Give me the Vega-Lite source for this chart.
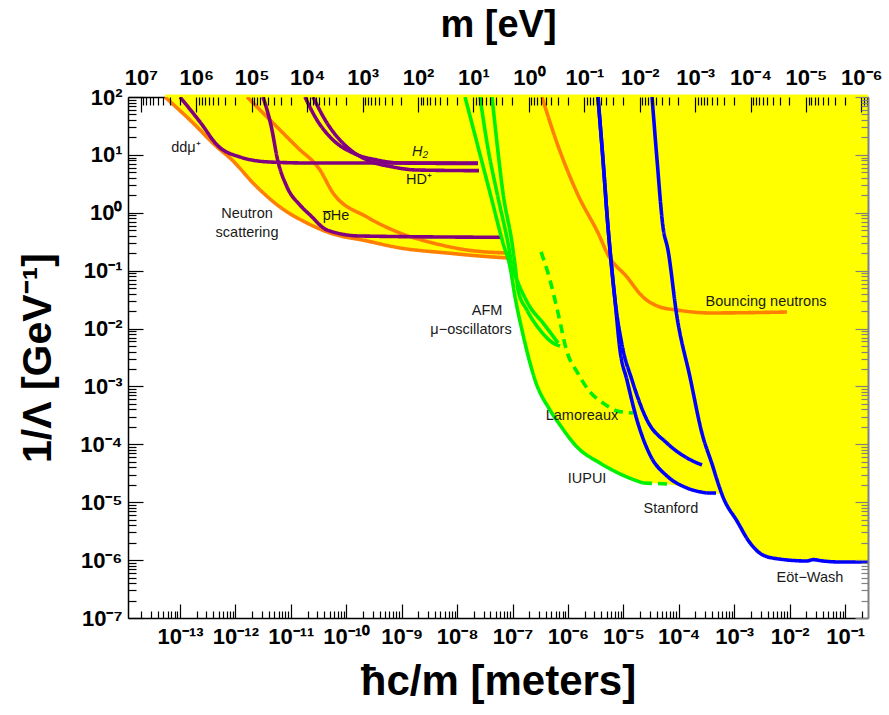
{
  "$schema": "https://vega.github.io/schema/vega-lite/v6.json",
  "width": 740,
  "height": 521,
  "autosize": "none",
  "padding": {"left": 128, "top": 97, "right": 21, "bottom": 97},
  "background": "white",
  "config": {
    "view": {"stroke": null},
    "axis": {
      "labelFont": "Liberation Sans", "titleFont": "Liberation Sans",
      "labelFontWeight": "bold", "titleFontWeight": "bold",
      "labelColor": "black", "titleColor": "black", "grid": false,
      "labelOverlap": false, "labelFlush": false, "labelBound": false,
      "tickColor": "black", "domainColor": "black", "tickWidth": 1.2
    }
  },
  "datasets": {
    "envelope": [
      {"x": 5.37e-14, "y": 100}, {"x": 1.65e-13, "y": 37.0}, {"x": 4.85e-13, "y": 13.2}, {"x": 7.98e-13, "y": 8.84},
      {"x": 2.45e-12, "y": 2.79}, {"x": 6.37e-12, "y": 1.26}, {"x": 1.96e-11, "y": 0.665}, {"x": 5.09e-11, "y": 0.448},
      {"x": 2.37e-10, "y": 0.326}, {"x": 9.33e-10, "y": 0.247}, {"x": 6.58e-9, "y": 0.202}, {"x": 2.59e-8, "y": 0.179},
      {"x": 7.94e-8, "y": 0.166}, {"x": 9.02e-8, "y": 0.116}, {"x": 1.11e-7, "y": 0.0351}, {"x": 1.48e-7, "y": 0.00944},
      {"x": 2.07e-7, "y": 0.00254}, {"x": 2.55e-7, "y": 0.00129}, {"x": 4.74e-7, "y": 3.92e-4}, {"x": 7.19e-7, "y": 2.16e-4},
      {"x": 1.46e-6, "y": 8.99e-5}, {"x": 3.78e-6, "y": 4.76e-5}, {"x": 1.16e-5, "y": 2.73e-5}, {"x": 2.26e-5, "y": 2.15e-5},
      {"x": 6.12e-5, "y": 2.07e-5}, {"x": 1.41e-4, "y": 1.76e-5}, {"x": 3.23e-4, "y": 1.44e-5}, {"x": 5.55e-4, "y": 1.39e-5},
      {"x": 6.28e-4, "y": 1.23e-5}, {"x": 1.12e-3, "y": 4.74e-6}, {"x": 1.93e-3, "y": 1.98e-6}, {"x": 3.31e-3, "y": 1.22e-6},
      {"x": 6.71e-3, "y": 1.04e-6}, {"x": 2.06e-2, "y": 9.66e-7}, {"x": 2.64e-2, "y": 1.02e-6}, {"x": 4.00e-2, "y": 9.66e-7},
      {"x": 8.11e-2, "y": 9.27e-7}, {"x": 0.2594, "y": 9.27e-7}
    ],
    "curves": [
      {"s": "neutron", "g": "orange", "d": "solid", "x": 5.37e-14, "y": 100},
      {"s": "neutron", "g": "orange", "d": "solid", "x": 1.65e-13, "y": 37.0},
      {"s": "neutron", "g": "orange", "d": "solid", "x": 4.85e-13, "y": 13.2},
      {"s": "neutron", "g": "orange", "d": "solid", "x": 7.98e-13, "y": 8.84},
      {"s": "neutron", "g": "orange", "d": "solid", "x": 2.45e-12, "y": 2.79},
      {"s": "neutron", "g": "orange", "d": "solid", "x": 6.37e-12, "y": 1.26},
      {"s": "neutron", "g": "orange", "d": "solid", "x": 1.96e-11, "y": 0.665},
      {"s": "neutron", "g": "orange", "d": "solid", "x": 5.09e-11, "y": 0.448},
      {"s": "neutron", "g": "orange", "d": "solid", "x": 2.37e-10, "y": 0.326},
      {"s": "neutron", "g": "orange", "d": "solid", "x": 9.33e-10, "y": 0.247},
      {"s": "neutron", "g": "orange", "d": "solid", "x": 6.58e-9, "y": 0.202},
      {"s": "neutron", "g": "orange", "d": "solid", "x": 2.59e-8, "y": 0.179},
      {"s": "neutron", "g": "orange", "d": "solid", "x": 7.94e-8, "y": 0.166},

      {"s": "orange2", "g": "orange", "d": "solid", "x": 1.62e-12, "y": 100},
      {"s": "orange2", "g": "orange", "d": "solid", "x": 4.21e-12, "y": 40.1},
      {"s": "orange2", "g": "orange", "d": "solid", "x": 1.29e-11, "y": 13.7},
      {"s": "orange2", "g": "orange", "d": "solid", "x": 3.36e-11, "y": 5.48},
      {"s": "orange2", "g": "orange", "d": "solid", "x": 5.77e-11, "y": 2.20},
      {"s": "orange2", "g": "orange", "d": "solid", "x": 2.37e-10, "y": 0.845},
      {"s": "orange2", "g": "orange", "d": "solid", "x": 9.33e-10, "y": 0.448},
      {"s": "orange2", "g": "orange", "d": "solid", "x": 3.67e-9, "y": 0.301},
      {"s": "orange2", "g": "orange", "d": "solid", "x": 1.51e-8, "y": 0.228},
      {"s": "orange2", "g": "orange", "d": "solid", "x": 7.94e-8, "y": 0.202},

      {"s": "bouncing", "g": "orange", "d": "solid", "x": 3.40e-7, "y": 100},
      {"s": "bouncing", "g": "orange", "d": "solid", "x": 6.35e-7, "y": 16.0},
      {"s": "bouncing", "g": "orange", "d": "solid", "x": 1.46e-6, "y": 2.20},
      {"s": "bouncing", "g": "orange", "d": "solid", "x": 3.78e-6, "y": 0.382},
      {"s": "bouncing", "g": "orange", "d": "solid", "x": 5.07e-6, "y": 0.202},
      {"s": "bouncing", "g": "orange", "d": "solid", "x": 1.16e-5, "y": 0.0778},
      {"s": "bouncing", "g": "orange", "d": "solid", "x": 2.26e-5, "y": 0.0351},
      {"s": "bouncing", "g": "orange", "d": "solid", "x": 4.58e-5, "y": 0.0236},
      {"s": "bouncing", "g": "orange", "d": "solid", "x": 9.29e-5, "y": 0.0209},
      {"s": "bouncing", "g": "orange", "d": "solid", "x": 3.66e-4, "y": 0.0186},
      {"s": "bouncing", "g": "orange", "d": "solid", "x": 8.97e-3, "y": 0.0193},

      {"s": "ddmu", "g": "purple", "d": "solid", "x": 1.0e-13, "y": 100},
      {"s": "ddmu", "g": "purple", "d": "solid", "x": 2.30e-13, "y": 37.0},
      {"s": "ddmu", "g": "purple", "d": "solid", "x": 4.85e-13, "y": 14.3},
      {"s": "ddmu", "g": "purple", "d": "solid", "x": 1.21e-12, "y": 9.20},
      {"s": "ddmu", "g": "purple", "d": "solid", "x": 4.21e-12, "y": 7.53},
      {"s": "ddmu", "g": "purple", "d": "solid", "x": 2.22e-11, "y": 7.24},
      {"s": "ddmu", "g": "purple", "d": "solid", "x": 2.38e-8, "y": 7.24},

      {"s": "H2", "g": "purple", "d": "solid", "x": 1.80e-11, "y": 100},
      {"s": "H2", "g": "purple", "d": "solid", "x": 2.96e-11, "y": 40.1},
      {"s": "H2", "g": "purple", "d": "solid", "x": 5.77e-11, "y": 18.1},
      {"s": "H2", "g": "purple", "d": "solid", "x": 1.32e-10, "y": 10.8},
      {"s": "H2", "g": "purple", "d": "solid", "x": 3.59e-10, "y": 8.17},
      {"s": "H2", "g": "purple", "d": "solid", "x": 9.33e-10, "y": 7.24},
      {"s": "H2", "g": "purple", "d": "solid", "x": 2.38e-8, "y": 7.10},

      {"s": "HD", "g": "purple", "d": "solid", "x": 2.51e-11, "y": 100},
      {"s": "HD", "g": "purple", "d": "solid", "x": 4.49e-11, "y": 35.6},
      {"s": "HD", "g": "purple", "d": "solid", "x": 1.03e-10, "y": 13.7},
      {"s": "HD", "g": "purple", "d": "solid", "x": 2.37e-10, "y": 8.17},
      {"s": "HD", "g": "purple", "d": "solid", "x": 6.97e-10, "y": 6.18},
      {"s": "HD", "g": "purple", "d": "solid", "x": 1.89e-9, "y": 5.48},
      {"s": "HD", "g": "purple", "d": "solid", "x": 2.48e-8, "y": 5.34},

      {"s": "pHe", "g": "purple", "d": "solid", "x": 3.15e-12, "y": 100},
      {"s": "pHe", "g": "purple", "d": "solid", "x": 4.57e-12, "y": 26.9},
      {"s": "pHe", "g": "purple", "d": "solid", "x": 5.62e-12, "y": 9.20},
      {"s": "pHe", "g": "purple", "d": "solid", "x": 8.53e-12, "y": 2.79},
      {"s": "pHe", "g": "purple", "d": "solid", "x": 1.46e-11, "y": 1.36},
      {"s": "pHe", "g": "purple", "d": "solid", "x": 2.22e-11, "y": 0.916},
      {"s": "pHe", "g": "purple", "d": "solid", "x": 4.49e-11, "y": 0.505},
      {"s": "pHe", "g": "purple", "d": "solid", "x": 1.77e-10, "y": 0.397},
      {"s": "pHe", "g": "purple", "d": "solid", "x": 5.94e-8, "y": 0.377},

      {"s": "IUPUI", "g": "green", "d": "solid", "x": 1.39e-8, "y": 100},
      {"s": "IUPUI", "g": "green", "d": "solid", "x": 2.29e-8, "y": 16.0},
      {"s": "IUPUI", "g": "green", "d": "solid", "x": 3.93e-8, "y": 2.20},
      {"s": "IUPUI", "g": "green", "d": "solid", "x": 6.73e-8, "y": 0.301},
      {"s": "IUPUI", "g": "green", "d": "solid", "x": 9.02e-8, "y": 0.116},
      {"s": "IUPUI", "g": "green", "d": "solid", "x": 1.11e-7, "y": 0.0351},
      {"s": "IUPUI", "g": "green", "d": "solid", "x": 1.48e-7, "y": 0.00944},
      {"s": "IUPUI", "g": "green", "d": "solid", "x": 2.07e-7, "y": 0.00254},
      {"s": "IUPUI", "g": "green", "d": "solid", "x": 2.55e-7, "y": 0.00129},
      {"s": "IUPUI", "g": "green", "d": "solid", "x": 4.74e-7, "y": 3.92e-4},
      {"s": "IUPUI", "g": "green", "d": "solid", "x": 7.19e-7, "y": 2.16e-4},
      {"s": "IUPUI", "g": "green", "d": "solid", "x": 1.46e-6, "y": 8.99e-5},
      {"s": "IUPUI", "g": "green", "d": "solid", "x": 3.78e-6, "y": 4.76e-5},
      {"s": "IUPUI", "g": "green", "d": "solid", "x": 1.16e-5, "y": 2.73e-5},
      {"s": "IUPUI", "g": "green", "d": "solid", "x": 2.26e-5, "y": 2.15e-5},

      {"s": "IUPUIext", "g": "green", "d": "dashed", "x": 2.26e-5, "y": 2.15e-5},
      {"s": "IUPUIext", "g": "green", "d": "dashed", "x": 6.12e-5, "y": 2.07e-5},

      {"s": "AFM1", "g": "green", "d": "solid", "x": 2.59e-8, "y": 100},
      {"s": "AFM1", "g": "green", "d": "solid", "x": 3.47e-8, "y": 16.0},
      {"s": "AFM1", "g": "green", "d": "solid", "x": 5.25e-8, "y": 2.20},
      {"s": "AFM1", "g": "green", "d": "solid", "x": 8.28e-8, "y": 0.301},
      {"s": "AFM1", "g": "green", "d": "solid", "x": 1.02e-7, "y": 0.103},
      {"s": "AFM1", "g": "green", "d": "solid", "x": 1.20e-7, "y": 0.0690},
      {"s": "AFM1", "g": "green", "d": "solid", "x": 2.07e-7, "y": 0.0236},
      {"s": "AFM1", "g": "green", "d": "solid", "x": 3.55e-7, "y": 0.0125},
      {"s": "AFM1", "g": "green", "d": "solid", "x": 6.62e-7, "y": 0.00564},

      {"s": "AFM2", "g": "green", "d": "solid", "x": 4.27e-8, "y": 100},
      {"s": "AFM2", "g": "green", "d": "solid", "x": 5.25e-8, "y": 16.0},
      {"s": "AFM2", "g": "green", "d": "solid", "x": 6.73e-8, "y": 2.20},
      {"s": "AFM2", "g": "green", "d": "solid", "x": 9.79e-8, "y": 0.301},
      {"s": "AFM2", "g": "green", "d": "solid", "x": 1.11e-7, "y": 0.125},
      {"s": "AFM2", "g": "green", "d": "solid", "x": 1.26e-7, "y": 0.0463},
      {"s": "AFM2", "g": "green", "d": "solid", "x": 1.82e-7, "y": 0.0209},
      {"s": "AFM2", "g": "green", "d": "solid", "x": 3.13e-7, "y": 0.00944},
      {"s": "AFM2", "g": "green", "d": "solid", "x": 5.37e-7, "y": 0.00564},
      {"s": "AFM2", "g": "green", "d": "solid", "x": 7.19e-7, "y": 0.0050},

      {"s": "Lamoreaux", "g": "green", "d": "dashed", "x": 3.27e-7, "y": 0.211},
      {"s": "Lamoreaux", "g": "green", "d": "dashed", "x": 4.74e-7, "y": 0.0690},
      {"s": "Lamoreaux", "g": "green", "d": "dashed", "x": 6.62e-7, "y": 0.0186},
      {"s": "Lamoreaux", "g": "green", "d": "dashed", "x": 9.62e-7, "y": 0.00394},
      {"s": "Lamoreaux", "g": "green", "d": "dashed", "x": 1.46e-6, "y": 0.00178},
      {"s": "Lamoreaux", "g": "green", "d": "dashed", "x": 2.50e-6, "y": 8.02e-4},
      {"s": "Lamoreaux", "g": "green", "d": "dashed", "x": 4.29e-6, "y": 5.18e-4},
      {"s": "Lamoreaux", "g": "green", "d": "dashed", "x": 7.67e-6, "y": 3.77e-4},
      {"s": "Lamoreaux", "g": "green", "d": "dashed", "x": 1.49e-5, "y": 3.48e-4},

      {"s": "StanfordA", "g": "blue", "d": "solid", "x": 3.48e-6, "y": 100},
      {"s": "StanfordA", "g": "blue", "d": "solid", "x": 4.29e-6, "y": 8.17},
      {"s": "StanfordA", "g": "blue", "d": "solid", "x": 5.28e-6, "y": 0.568},
      {"s": "StanfordA", "g": "blue", "d": "solid", "x": 5.74e-6, "y": 0.228},
      {"s": "StanfordA", "g": "blue", "d": "solid", "x": 7.06e-6, "y": 0.0311},
      {"s": "StanfordA", "g": "blue", "d": "solid", "x": 8.69e-6, "y": 0.00427},
      {"s": "StanfordA", "g": "blue", "d": "solid", "x": 1.16e-5, "y": 0.00129},
      {"s": "StanfordA", "g": "blue", "d": "solid", "x": 1.76e-5, "y": 2.63e-4},
      {"s": "StanfordA", "g": "blue", "d": "solid", "x": 3.03e-5, "y": 6.55e-5},
      {"s": "StanfordA", "g": "blue", "d": "solid", "x": 6.12e-5, "y": 2.84e-5},
      {"s": "StanfordA", "g": "blue", "d": "solid", "x": 1.41e-4, "y": 1.76e-5},
      {"s": "StanfordA", "g": "blue", "d": "solid", "x": 3.23e-4, "y": 1.44e-5},

      {"s": "StanfordAext", "g": "blue", "d": "dashed", "x": 3.23e-4, "y": 1.44e-5},
      {"s": "StanfordAext", "g": "blue", "d": "dashed", "x": 6.03e-4, "y": 1.44e-5},

      {"s": "StanfordB", "g": "blue", "d": "solid", "x": 3.48e-6, "y": 100},
      {"s": "StanfordB", "g": "blue", "d": "solid", "x": 4.29e-6, "y": 8.17},
      {"s": "StanfordB", "g": "blue", "d": "solid", "x": 5.28e-6, "y": 0.568},
      {"s": "StanfordB", "g": "blue", "d": "solid", "x": 5.74e-6, "y": 0.228},
      {"s": "StanfordB", "g": "blue", "d": "solid", "x": 7.06e-6, "y": 0.0311},
      {"s": "StanfordB", "g": "blue", "d": "solid", "x": 9.46e-6, "y": 0.0052},
      {"s": "StanfordB", "g": "blue", "d": "solid", "x": 1.43e-5, "y": 0.00129},
      {"s": "StanfordB", "g": "blue", "d": "solid", "x": 2.67e-5, "y": 2.63e-4},
      {"s": "StanfordB", "g": "blue", "d": "solid", "x": 6.12e-5, "y": 1.05e-4},
      {"s": "StanfordB", "g": "blue", "d": "solid", "x": 1.41e-4, "y": 5.81e-5},
      {"s": "StanfordB", "g": "blue", "d": "solid", "x": 2.62e-4, "y": 4.40e-5},

      {"s": "EotWash", "g": "blue", "d": "solid", "x": 3.29e-5, "y": 100},
      {"s": "EotWash", "g": "blue", "d": "solid", "x": 4.05e-5, "y": 8.17},
      {"s": "EotWash", "g": "blue", "d": "solid", "x": 5.19e-5, "y": 0.568},
      {"s": "EotWash", "g": "blue", "d": "solid", "x": 6.38e-5, "y": 0.228},
      {"s": "EotWash", "g": "blue", "d": "solid", "x": 9.29e-5, "y": 0.0158},
      {"s": "EotWash", "g": "blue", "d": "solid", "x": 1.59e-4, "y": 0.00146},
      {"s": "EotWash", "g": "blue", "d": "solid", "x": 2.60e-4, "y": 1.60e-4},
      {"s": "EotWash", "g": "blue", "d": "solid", "x": 4.14e-4, "y": 4.06e-5},
      {"s": "EotWash", "g": "blue", "d": "solid", "x": 4.90e-4, "y": 2.42e-5},
      {"s": "EotWash", "g": "blue", "d": "solid", "x": 6.28e-4, "y": 1.23e-5},
      {"s": "EotWash", "g": "blue", "d": "solid", "x": 1.12e-3, "y": 4.74e-6},
      {"s": "EotWash", "g": "blue", "d": "solid", "x": 1.93e-3, "y": 1.98e-6},
      {"s": "EotWash", "g": "blue", "d": "solid", "x": 3.31e-3, "y": 1.22e-6},
      {"s": "EotWash", "g": "blue", "d": "solid", "x": 6.71e-3, "y": 1.04e-6},
      {"s": "EotWash", "g": "blue", "d": "solid", "x": 2.06e-2, "y": 9.66e-7},
      {"s": "EotWash", "g": "blue", "d": "solid", "x": 2.64e-2, "y": 1.02e-6},
      {"s": "EotWash", "g": "blue", "d": "solid", "x": 4.00e-2, "y": 9.66e-7},
      {"s": "EotWash", "g": "blue", "d": "solid", "x": 8.11e-2, "y": 9.27e-7},
      {"s": "EotWash", "g": "blue", "d": "solid", "x": 0.2594, "y": 9.27e-7}
    ],
    "labels": [
      {"label": "ddμ⁺", "x": 1.28e-13, "y": 13.2},
      {"label": "H₂", "x": 2.14e-9, "y": 11.2},
      {"label": "HD⁺", "x": 2.06e-9, "y": 3.68},
      {"label": "p\u0305He", "x": 6.53e-11, "y": 0.879},
      {"label": "Neutron", "x": 1.62e-12, "y": 0.953},
      {"label": "scattering", "x": 1.62e-12, "y": 0.448},
      {"label": "AFM", "x": 3.47e-8, "y": 0.0201},
      {"label": "μ−oscillators", "x": 1.78e-8, "y": 0.00944},
      {"label": "Bouncing neutrons", "x": 3.75e-3, "y": 0.0288},
      {"label": "Lamoreaux", "x": 1.79e-6, "y": 3.09e-4},
      {"label": "IUPUI", "x": 2.21e-6, "y": 2.52e-5},
      {"label": "Stanford", "x": 7.24e-5, "y": 7.64e-6},
      {"label": "Eöt−Wash", "x": 2.33e-2, "y": 4.91e-7}
    ],
    "topaxis": [{"m": 1, "y": 1}]
  },
  "layer": [
    {
      "data": {"name": "envelope"},
      "mark": {"type": "area", "color": "#FFFF00", "interpolate": "monotone"},
      "encoding": {
        "x": {"field": "x", "type": "quantitative",
          "scale": {"type": "log", "domain": [1.153e-14, 0.2594]},
          "axis": {"orient": "bottom", "values": [1e-13, 1e-12, 1e-11, 1e-10, 1e-9, 1e-8, 1e-7, 1e-6, 1e-5, 1e-4, 1e-3, 1e-2, 1e-1],
            "ticks": false, "labelPadding": 8, "labelFontSize": 22, "domainWidth": 1.5,
            "labelExpr": "'10' + (datum.value < 1 ? '⁻' : '') + (abs(round(log(datum.value)/LN10)) >= 10 ? '¹' : '') + ['⁰','¹','²','³','⁴','⁵','⁶','⁷','⁸','⁹'][abs(round(log(datum.value)/LN10)) % 10]",
            "title": "ħc/m [meters]", "titleFontSize": 42, "titlePadding": 14}},
        "y": {"field": "y", "type": "quantitative",
          "scale": {"type": "log", "domain": [1e-7, 100]},
          "axis": {"orient": "left", "values": [1e-7, 1e-6, 1e-5, 1e-4, 1e-3, 1e-2, 1e-1, 1, 10, 100],
            "ticks": false, "labelPadding": 6, "labelFontSize": 22, "domainWidth": 1.5,
            "labelExpr": "'10' + (datum.value < 1 ? '⁻' : '') + (abs(round(log(datum.value)/LN10)) >= 10 ? '¹' : '') + ['⁰','¹','²','³','⁴','⁵','⁶','⁷','⁸','⁹'][abs(round(log(datum.value)/LN10)) % 10]",
            "title": "1/Λ [GeV⁻¹]", "titleFontSize": 41, "titlePadding": 20}},
        "y2": {"datum": 110}
      }
    },
    {
      "data": {"name": "curves"},
      "mark": {"type": "line", "strokeWidth": 3.6, "clip": true, "interpolate": "monotone"},
      "encoding": {
        "x": {"field": "x", "type": "quantitative",
          "scale": {"type": "log", "domain": [1.153e-14, 0.2594]},
          "axis": {"orient": "bottom", "values": [1e-13, 1e-12, 1e-11, 1e-10, 1e-9, 1e-8, 1e-7, 1e-6, 1e-5, 1e-4, 1e-3, 1e-2, 1e-1],
            "labels": false, "domain": false, "tickSize": -14, "zindex": 1, "title": null}},
        "y": {"field": "y", "type": "quantitative",
          "scale": {"type": "log", "domain": [1e-7, 100]},
          "axis": {"orient": "left", "values": [1e-7, 1e-6, 1e-5, 1e-4, 1e-3, 1e-2, 1e-1, 1, 10, 100],
            "labels": false, "domain": false, "tickSize": -15, "zindex": 1, "title": null}},
        "color": {"field": "g", "type": "nominal",
          "scale": {"domain": ["purple", "orange", "green", "blue"], "range": ["#800080", "#FF8000", "#00F000", "#0000FF"]},
          "legend": null},
        "strokeDash": {"field": "d", "type": "nominal",
          "scale": {"domain": ["solid", "dashed"], "range": [[1, 0], [9, 6]]}, "legend": null},
        "detail": {"field": "s"}
      }
    },
    {
      "data": {"name": "labels"},
      "transform": [{"filter": "datum.label !== 'H₂'"}],
      "mark": {"type": "text", "font": "Liberation Sans", "fontSize": 14.5, "color": "#1a1a1a", "align": "center", "baseline": "middle"},
      "encoding": {
        "x": {"field": "x", "type": "quantitative",
          "scale": {"type": "log", "domain": [1.153e-14, 0.2594]},
          "axis": {"orient": "bottom", "labels": false, "domain": false, "tickSize": -7, "zindex": 1, "title": null,
            "values": [2e-14,3e-14,4e-14,5e-14,6e-14,7e-14,8e-14,9e-14,2e-13,3e-13,4e-13,5e-13,6e-13,7e-13,8e-13,9e-13,2e-12,3e-12,4e-12,5e-12,6e-12,7e-12,8e-12,9e-12,2e-11,3e-11,4e-11,5e-11,6e-11,7e-11,8e-11,9e-11,2e-10,3e-10,4e-10,5e-10,6e-10,7e-10,8e-10,9e-10,2e-9,3e-9,4e-9,5e-9,6e-9,7e-9,8e-9,9e-9,2e-8,3e-8,4e-8,5e-8,6e-8,7e-8,8e-8,9e-8,2e-7,3e-7,4e-7,5e-7,6e-7,7e-7,8e-7,9e-7,2e-6,3e-6,4e-6,5e-6,6e-6,7e-6,8e-6,9e-6,2e-5,3e-5,4e-5,5e-5,6e-5,7e-5,8e-5,9e-5,2e-4,3e-4,4e-4,5e-4,6e-4,7e-4,8e-4,9e-4,2e-3,3e-3,4e-3,5e-3,6e-3,7e-3,8e-3,9e-3,2e-2,3e-2,4e-2,5e-2,6e-2,7e-2,8e-2,9e-2,0.2]}},
        "y": {"field": "y", "type": "quantitative",
          "scale": {"type": "log", "domain": [1e-7, 100]},
          "axis": {"orient": "left", "labels": false, "domain": false, "tickSize": -8, "zindex": 1, "title": null,
            "values": [2e-7,3e-7,4e-7,5e-7,6e-7,7e-7,8e-7,9e-7,2e-6,3e-6,4e-6,5e-6,6e-6,7e-6,8e-6,9e-6,2e-5,3e-5,4e-5,5e-5,6e-5,7e-5,8e-5,9e-5,2e-4,3e-4,4e-4,5e-4,6e-4,7e-4,8e-4,9e-4,2e-3,3e-3,4e-3,5e-3,6e-3,7e-3,8e-3,9e-3,2e-2,3e-2,4e-2,5e-2,6e-2,7e-2,8e-2,9e-2,0.2,0.3,0.4,0.5,0.6,0.7,0.8,0.9,2,3,4,5,6,7,8,9,20,30,40,50,60,70,80,90]}},
        "text": {"field": "label"}
      }
    },
    {
      "data": {"name": "labels"},
      "transform": [{"filter": "datum.label === 'H₂'"}],
      "mark": {"type": "text", "font": "Liberation Sans", "fontSize": 14.5, "fontStyle": "italic", "color": "#1a1a1a", "align": "center", "baseline": "middle"},
      "encoding": {
        "x": {"field": "x", "type": "quantitative", "scale": {"type": "log", "domain": [1.153e-14, 0.2594]}, "axis": null},
        "y": {"field": "y", "type": "quantitative", "scale": {"type": "log", "domain": [1e-7, 100]}, "axis": null},
        "text": {"field": "label"}
      }
    },
    {
      "data": {"name": "topaxis"},
      "mark": {"type": "point", "opacity": 0},
      "encoding": {
        "x": {"field": "m", "type": "quantitative",
          "scale": {"type": "log", "domain": [1.711e7, 7.607e-7]},
          "axis": {"orient": "top", "values": [1e7, 1e6, 1e5, 1e4, 1e3, 1e2, 10, 1, 0.1, 1e-2, 1e-3, 1e-4, 1e-5, 1e-6],
            "ticks": false, "labelPadding": 8, "labelFontSize": 22, "domainWidth": 1.5,
            "labelExpr": "'10' + (datum.value < 1 ? '⁻' : '') + (abs(round(log(datum.value)/LN10)) >= 10 ? '¹' : '') + ['⁰','¹','²','³','⁴','⁵','⁶','⁷','⁸','⁹'][abs(round(log(datum.value)/LN10)) % 10]",
            "title": "m [eV]", "titleFontSize": 38, "titlePadding": 22}},
        "y": {"field": "y", "type": "quantitative",
          "scale": {"type": "log", "domain": [1e-7, 100]},
          "axis": {"orient": "right", "values": [1e-7, 1e-6, 1e-5, 1e-4, 1e-3, 1e-2, 1e-1, 1, 10, 100],
            "labels": false, "tickSize": -13, "zindex": 1, "title": null,
            "domainColor": "#808080", "domainWidth": 2, "tickColor": "#808080"}}
      }
    },
    {
      "data": {"name": "topaxis"},
      "mark": {"type": "point", "opacity": 0},
      "encoding": {
        "x": {"field": "m", "type": "quantitative",
          "scale": {"type": "log", "domain": [1.711e7, 7.607e-7]},
          "axis": {"orient": "top", "values": [1e7, 1e6, 1e5, 1e4, 1e3, 1e2, 10, 1, 0.1, 1e-2, 1e-3, 1e-4, 1e-5, 1e-6],
            "labels": false, "domain": false, "tickSize": -15, "zindex": 1, "title": null}},
        "y": {"field": "y", "type": "quantitative",
          "scale": {"type": "log", "domain": [1e-7, 100]},
          "axis": {"orient": "right", "labels": false, "domain": false, "tickSize": -7, "zindex": 1, "title": null, "tickColor": "#808080",
            "values": [2e-7,3e-7,4e-7,5e-7,6e-7,7e-7,8e-7,9e-7,2e-6,3e-6,4e-6,5e-6,6e-6,7e-6,8e-6,9e-6,2e-5,3e-5,4e-5,5e-5,6e-5,7e-5,8e-5,9e-5,2e-4,3e-4,4e-4,5e-4,6e-4,7e-4,8e-4,9e-4,2e-3,3e-3,4e-3,5e-3,6e-3,7e-3,8e-3,9e-3,2e-2,3e-2,4e-2,5e-2,6e-2,7e-2,8e-2,9e-2,0.2,0.3,0.4,0.5,0.6,0.7,0.8,0.9,2,3,4,5,6,7,8,9,20,30,40,50,60,70,80,90]}}
      }
    },
    {
      "data": {"name": "topaxis"},
      "mark": {"type": "point", "opacity": 0},
      "encoding": {
        "x": {"field": "m", "type": "quantitative",
          "scale": {"type": "log", "domain": [1.711e7, 7.607e-7]},
          "axis": {"orient": "top", "labels": false, "domain": false, "tickSize": -8, "zindex": 1, "title": null,
            "values": [8e-7,9e-7,2e-6,3e-6,4e-6,5e-6,6e-6,7e-6,8e-6,9e-6,2e-5,3e-5,4e-5,5e-5,6e-5,7e-5,8e-5,9e-5,2e-4,3e-4,4e-4,5e-4,6e-4,7e-4,8e-4,9e-4,2e-3,3e-3,4e-3,5e-3,6e-3,7e-3,8e-3,9e-3,2e-2,3e-2,4e-2,5e-2,6e-2,7e-2,8e-2,9e-2,0.2,0.3,0.4,0.5,0.6,0.7,0.8,0.9,2,3,4,5,6,7,8,9,20,30,40,50,60,70,80,90,200,300,400,500,600,700,800,900,2000,3000,4000,5000,6000,7000,8000,9000,2e4,3e4,4e4,5e4,6e4,7e4,8e4,9e4,2e5,3e5,4e5,5e5,6e5,7e5,8e5,9e5,2e6,3e6,4e6,5e6,6e6,7e6,8e6,9e6]}},
        "y": {"field": "y", "type": "quantitative", "scale": {"type": "log", "domain": [1e-7, 100]}, "axis": null}
      }
    }
  ],
  "resolve": {"scale": {"x": "independent"}, "axis": {"x": "independent", "y": "independent"}}
}
